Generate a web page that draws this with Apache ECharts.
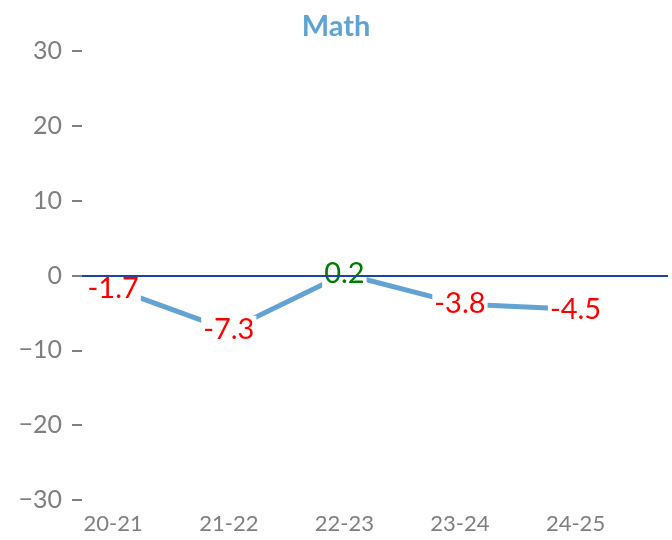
<!DOCTYPE html>
<html><head><meta charset="utf-8">
<script src="https://cdn.jsdelivr.net/npm/echarts@6/dist/echarts.min.js"></script>
<style>html,body{margin:0;padding:0;background:#fff}#c{width:672px;height:540px}</style>
</head><body><div id="c"></div>
<script>
const categories = ["20-21", "21-22", "22-23", "23-24", "24-25"];
const mathValues = [-1.7, -7.3, 0.2, -3.8, -4.5];
const yTicks = [-30, -20, -10, 0, 10, 20, 30];

const FONT = "Lato, 'DejaVu Sans', sans-serif";
const chart = echarts.init(document.getElementById('c'));
chart.setOption({
  animation: false,
  title: {
    text: 'Math', left: 'center', top: 7,
    textStyle: { color: '#5fa3d3', fontSize: 29, fontWeight: 'bold', fontFamily: FONT }
  },
  grid: { left: 82, right: 4, top: 51, bottom: 40, containLabel: false, outerBoundsMode: 'none' },
  xAxis: {
    type: 'value', min: -0.27, max: 4.8,
    axisLine: { show: false, onZero: false }, axisTick: { show: false }, splitLine: { show: false },
    axisLabel: {
      customValues: categories.map((c, i) => i),
      formatter: v => categories[Math.round(v)] ?? '',
      color: '#7f7f7f', fontSize: 22, fontFamily: FONT, margin: 13
    }
  },
  yAxis: {
    type: 'value', min: -30, max: 30, interval: 10,
    axisLine: { show: false, onZero: false }, splitLine: { show: false },
    axisTick: { show: true, length: 10, lineStyle: { color: '#7f7f7f', width: 2 } },
    axisLabel: {
      color: '#7f7f7f', fontSize: 25, fontFamily: FONT, margin: 20,
      formatter: v => (v < 0 ? '\u2212' + Math.abs(v) : String(v))
    }
  },
  series: [{
    type: 'line',
    data: mathValues.map((v, i) => ({
      value: [i, v],
      label: { color: v < 0 ? '#ff0000' : '#007a00' }
    })),
    symbol: 'circle', symbolSize: 1, showSymbol: true,
    itemStyle: { color: '#63a3d3' },
    lineStyle: { color: '#63a3d3', width: 5 },
    label: {
      show: true, position: 'inside',
      formatter: p => String(p.value[1]),
      fontSize: 29, fontFamily: FONT,
      backgroundColor: '#ffffff', padding: [0, 2]
    },
    markLine: {
      silent: true, symbol: 'none',
      label: { show: false },
      lineStyle: { color: '#1a44a6', width: 2, type: 'solid' },
      data: [{ yAxis: 0 }]
    },
    z: 3
  }]
});
</script></body></html>
